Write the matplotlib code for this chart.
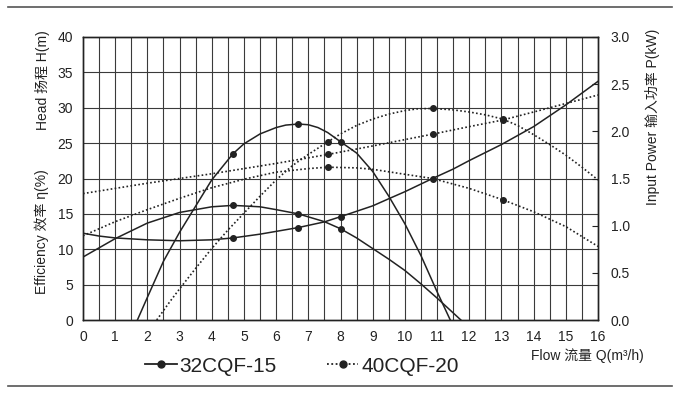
import matplotlib
matplotlib.use("Agg")
import matplotlib.pyplot as plt
from matplotlib.lines import Line2D

plt.rcParams['font.family'] = ['Liberation Sans', 'Noto Sans CJK SC', 'DejaVu Sans']

# 32CQF-15 (solid)
q_head_a = [1.69, 2.0, 2.5, 3.0, 3.5, 4.0, 4.66, 5.0, 5.5, 6.0, 6.3, 6.69, 7.0, 7.3, 7.6,
            8.0, 8.5, 9.0, 9.5, 10.0, 10.5, 11.0, 11.41]
head_a = [0, 3.2, 8.3, 12.4, 16.1, 19.8, 23.5, 24.9, 26.3, 27.2, 27.55, 27.7, 27.6, 27.2,
          26.5, 25.2, 23.6, 21.0, 17.5, 13.6, 9.1, 4.0, 0]
q_eff_a = [0, 1, 2, 3, 4, 4.66, 5.5, 6.0, 6.69, 7.5, 8.0, 8.5, 9.0, 9.5, 10.0, 10.5, 11.0, 11.74]
eff_a = [8.9, 11.5, 13.7, 15.2, 16.0, 16.2, 16.0, 15.6, 15.0, 13.9, 12.9, 11.6, 10.1, 8.6,
         7.0, 5.1, 3.1, 0]
q_pow_a = [0, 0.5, 1, 2, 3, 4, 4.66, 5.5, 6.69, 7.5, 8.0, 9.0, 9.53, 10.0, 10.86, 11.5,
           12.0, 13.0, 14.0, 15.0, 16.0]
pow_a = [0.92, 0.89, 0.87, 0.85, 0.84, 0.85, 0.87, 0.91, 0.98, 1.04, 1.095, 1.21, 1.29,
         1.36, 1.50, 1.60, 1.69, 1.86, 2.05, 2.28, 2.53]
mark_q_a = [4.66, 6.69, 8.0]
mark_head_a = [23.5, 27.7, 25.2]
mark_eff_a = [16.2, 15.0, 12.9]
mark_pow_a = [0.87, 0.98, 1.095]

# 40CQF-20 (dotted)
q_head_b = [2.29, 2.7, 3.0, 3.5, 4.0, 4.5, 5.0, 5.5, 6.0, 6.5, 7.0, 7.61, 8.0, 8.5, 9.0,
            9.5, 10.0, 10.4, 10.86, 11.5, 12.0, 12.5, 13.04, 13.5, 14.0, 14.5, 15.0, 15.5, 16.0]
head_b = [0, 2.6, 4.4, 7.3, 10.1, 12.7, 15.1, 17.5, 19.8, 21.8, 23.4, 25.2, 26.3, 27.5,
          28.4, 29.1, 29.6, 29.85, 29.9, 29.7, 29.4, 29.0, 28.4, 27.5, 26.2, 24.8, 23.3,
          21.6, 19.8]
q_eff_b = [0, 1, 2, 3, 4, 5, 6, 7, 7.61, 8.5, 9.0, 9.85, 10.86, 12.0, 13.04, 14.0, 15.0, 16.0]
eff_b = [11.9, 13.9, 15.6, 17.2, 18.7, 19.9, 20.9, 21.4, 21.6, 21.5, 21.3, 20.7, 20.0,
         18.6, 17.0, 15.3, 13.2, 10.4]
q_pow_b = [0, 2, 4, 6, 7.61, 9, 10.86, 12, 13.04, 14, 15, 16]
pow_b = [1.34, 1.45, 1.55, 1.66, 1.755, 1.845, 1.97, 2.05, 2.12, 2.205, 2.295, 2.385]
mark_q_b = [7.61, 10.86, 13.04]
mark_head_b = [25.2, 29.9, 28.4]
mark_eff_b = [21.6, 20.0, 17.0]
mark_pow_b = [1.755, 1.97, 2.12]

x_ticks = list(range(0, 17))
y_ticks = list(range(0, 45, 5))
p_ticks = [0.0, 0.5, 1.0, 1.5, 2.0, 2.5, 3.0]

ink = '#222222'
dot = (0, (1, 1.4))

fig = plt.figure(figsize=(6.78, 3.98), dpi=100)
ax = fig.add_axes([83 / 678, 1 - 320 / 398, 515 / 678, 283 / 398])
ax2 = ax.twinx()

# grid: every 0.5 on flow, every 5 on head
for q in [i * 0.5 for i in range(1, 32)]:
    ax.axvline(q, color='#3a3a3a', lw=0.8, zorder=1)
for h in y_ticks[1:-1]:
    ax.axhline(h, color='#3a3a3a', lw=0.8, zorder=1)

lw = 1.1
ax.plot(q_head_a, head_a, color=ink, lw=lw, zorder=3)
ax.plot(q_eff_a, eff_a, color=ink, lw=lw, zorder=3)
ax2.plot(q_pow_a, pow_a, color=ink, lw=lw, zorder=3)
ax.plot(q_head_b, head_b, color=ink, lw=1.2, ls=dot, zorder=3)
ax.plot(q_eff_b, eff_b, color=ink, lw=1.2, ls=dot, zorder=3)
ax2.plot(q_pow_b, pow_b, color=ink, lw=1.2, ls=dot, zorder=3)

ms = 4
for qs, vs in [(mark_q_a, mark_head_a), (mark_q_a, mark_eff_a),
               (mark_q_b, mark_head_b), (mark_q_b, mark_eff_b)]:
    ax.plot(qs, vs, 'o', color=ink, ms=ms, zorder=4)
for qs, vs in [(mark_q_a, mark_pow_a), (mark_q_b, mark_pow_b)]:
    ax2.plot(qs, vs, 'o', color=ink, ms=ms, zorder=4)

ax.set_xlim(0, 16)
ax.set_ylim(0, 40)
ax2.set_ylim(0, 3)
ax.set_xticks(x_ticks)
ax.set_yticks(y_ticks)
ax2.set_yticks(p_ticks)
ax2.set_yticklabels([f'{p:.1f}' for p in p_ticks])
ax.tick_params(axis='both', length=0, labelsize=10, colors=ink, pad=7)
ax2.tick_params(axis='y', direction='in', length=4, width=0.8, labelsize=10,
                colors=ink, pad=9)
for a in (ax, ax2):
    for s in a.spines.values():
        s.set_color(ink)
        s.set_linewidth(1.0)

# axis titles
fig.text(42 / 678, 1 - 80 / 398, 'Head 扬程 H(m)', rotation=90, ha='center', va='center',
         fontsize=10, color=ink)
fig.text(42 / 678, 1 - 232 / 398, 'Efficiency 效率 η(%)', rotation=90, ha='center',
         va='center', fontsize=10, color=ink)
fig.text(652 / 678, 1 - 117 / 398, 'Input Power 输入功率 P(kW)', rotation=90, ha='center',
         va='center', fontsize=10, color=ink)
fig.text(644 / 678, 1 - 356 / 398, 'Flow 流量 Q(m³/h)', ha='right', va='center',
         fontsize=10, color=ink)

# rules top and bottom
fig.add_artist(Line2D([8 / 678, 672 / 678], [1 - 7 / 398, 1 - 7 / 398],
                      color='#555555', lw=1.2))
fig.add_artist(Line2D([8 / 678, 672 / 678], [1 - 386 / 398, 1 - 386 / 398],
                      color='#555555', lw=1.2))

handles = [Line2D([], [], color=ink, lw=1.3, marker='o', ms=5),
           Line2D([], [], color=ink, lw=1.3, ls=dot, marker='o', ms=5)]
fig.legend(handles, ['32CQF-15', '40CQF-20'], loc='center',
           bbox_to_anchor=(302 / 678, 1 - 366 / 398), ncol=2, frameon=False,
           fontsize=15, handlelength=1.5, handletextpad=0.15, columnspacing=2.4,
           labelcolor=ink)

fig.savefig('out.png', dpi=100)
